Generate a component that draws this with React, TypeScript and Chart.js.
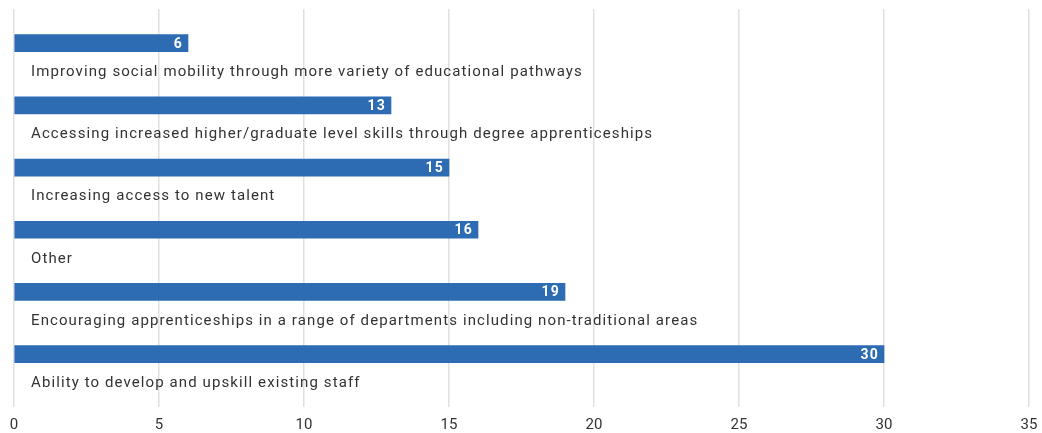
import React, { useEffect, useRef } from "react";
import { Chart, registerables } from "chart.js";

Chart.register(...registerables);

const categories = [
  "Improving social mobility through more variety of educational pathways",
  "Accessing increased higher/graduate level skills through degree apprenticeships",
  "Increasing access to new talent",
  "Other",
  "Encouraging apprenticeships in a range of departments including non-traditional areas",
  "Ability to develop and upskill existing staff",
];
const values = [6, 13, 15, 16, 19, 30];
const xTicks = [0, 5, 10, 15, 20, 25, 30, 35];

const BAR_COLOR = "#2d6bb3";
const FONT = "Roboto, 'DejaVu Sans', sans-serif";

const labelPlugin = {
  id: "rowLabels",
  afterDatasetsDraw(chart: any) {
    const ctx = chart.ctx as CanvasRenderingContext2D;
    const meta = chart.getDatasetMeta(0);
    const xScale = chart.scales.x;
    ctx.save();
    meta.data.forEach((bar: any, i: number) => {
      ctx.font = `bold 14px ${FONT}`;
      (ctx as any).letterSpacing = "1.2px";
      ctx.fillStyle = "#ffffff";
      ctx.textAlign = "right";
      ctx.textBaseline = "middle";
      ctx.fillText(String(values[i]), bar.x - 5, bar.y + 1);
      ctx.font = `15px ${FONT}`;
      (ctx as any).letterSpacing = "1.1px";
      ctx.fillStyle = "#333333";
      ctx.textAlign = "left";
      ctx.fillText(categories[i], xScale.left + 17, bar.y + 29);
    });
    ctx.restore();
  },
};

export default function App() {
  const ref = useRef<HTMLCanvasElement>(null);
  useEffect(() => {
    if (!ref.current) return;
    const chart = new Chart(ref.current, {
      type: "bar",
      data: {
        datasets: [
          {
            data: values.map((v, i) => ({ x: v, y: i })),
            backgroundColor: BAR_COLOR,
            barThickness: 17,
            borderWidth: 0,
          },
        ],
      },
      options: {
        indexAxis: "y",
        animation: false,
        responsive: true,
        maintainAspectRatio: false,
        layout: { padding: { left: 14, right: 13, top: 9, bottom: 0 } },
        plugins: { legend: { display: false }, tooltip: { enabled: false } },
        scales: {
          x: {
            type: "linear",
            min: 0,
            max: 35,
            afterBuildTicks: (axis: any) => {
              axis.ticks = xTicks.map((v) => ({ value: v }));
            },
            afterFit: (axis: any) => {
              axis.height = 26;
              axis.paddingLeft = 0;
              axis.paddingRight = 0;
            },
            grid: { color: "#e0e0e0", lineWidth: 1.5, drawTicks: false },
            border: { display: false },
            ticks: {
              padding: 9,
              color: "#333333",
              font: { family: FONT, size: 15 },
            },
          },
          y: {
            type: "linear",
            min: -0.55,
            max: 5.85,
            reverse: true,
            offset: false,
            display: false,
          },
        },
      },
      plugins: [labelPlugin],
    });
    return () => chart.destroy();
  }, []);
  return (
    <div style={{ position: "fixed", left: 0, top: 0, width: 1042, height: 433 }}>
      <canvas ref={ref} />
    </div>
  );
}
